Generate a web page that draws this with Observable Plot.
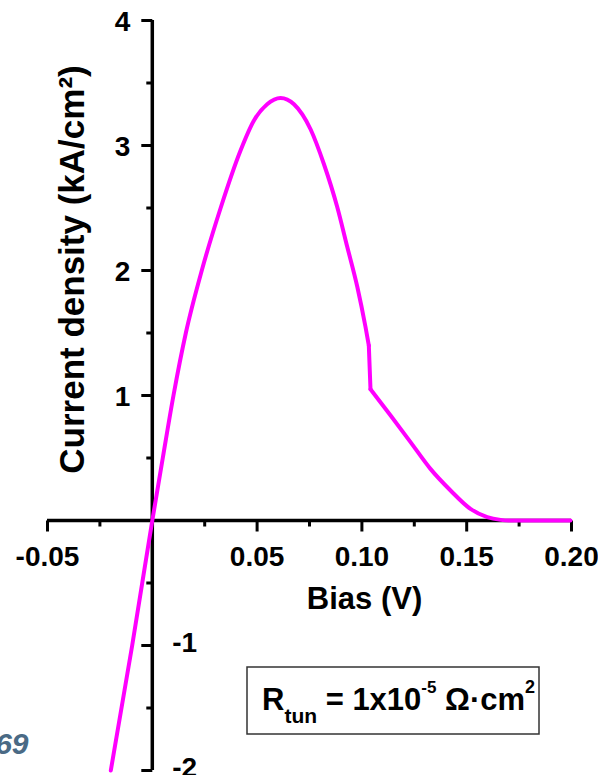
<!DOCTYPE html>
<html>
<head>
<meta charset="utf-8">
<script src="https://cdn.jsdelivr.net/npm/d3@7"></script>
<script src="https://cdn.jsdelivr.net/npm/@observablehq/plot@0.6"></script>
<style>
  html, body { margin: 0; padding: 0; background: #fff; }
  #chart { position: relative; width: 598px; height: 775px; }
  svg { font-family: "Liberation Sans", Arial, Helvetica, sans-serif; }
</style>
</head>
<body>
<div id="chart"></div>
<script>
// ---- data ----
const bias = [-0.0198, -0.0096, 0, 0.0050, 0.0101, 0.0160, 0.0236, 0.0326, 0.0421, 0.0485, 0.0548, 0.0612, 0.0676, 0.0755, 0.0819, 0.0882, 0.0930, 0.0978, 0.1017, 0.1033, 0.1041, 0.1137, 0.1232, 0.1327, 0.1423, 0.1518, 0.1598, 0.1662, 0.1700, 0.1995];
const density = [-2.0, -1.0, 0, 0.5, 1.0, 1.5, 2.0, 2.5, 2.96, 3.20, 3.33, 3.38, 3.33, 3.13, 2.85, 2.51, 2.19, 1.87, 1.55, 1.40, 1.05, 0.84, 0.627, 0.413, 0.24, 0.093, 0.027, 0.005, 0, 0];
const dropStart = 0.1033;   // bias where the current drops abruptly
const dropEnd = 0.1041;

const xMajorTicks = [-0.05, 0.05, 0.10, 0.15, 0.20];
const xMinorTicks = [-0.025, 0.025, 0.075, 0.125, 0.175];
const xTickLabels = ["-0.05", "0.05", "0.10", "0.15", "0.20"];
const yMajorTicks = [-2, -1, 1, 2, 3, 4];
const yMinorTicks = [-1.5, -0.5, 0.5, 1.5, 2.5, 3.5];
const yPosTicks = [1, 2, 3, 4];
const yPosLabels = ["1", "2", "3", "4"];
const yNegTicks = [-1, -2];
const yNegLabels = ["-1", "-2"];

const xTitle = "Bias (V)";
const yTitle = "Current density (kA/cm\u00B2)";
const pageMark = "69";

const curve = bias.map((b, i) => ({bias: b, density: density[i]}));
const before = curve.filter(d => d.bias <= dropStart);
const drop = curve.filter(d => d.bias >= dropStart && d.bias <= dropEnd);
const after = curve.filter(d => d.bias >= dropEnd);

// tick symbols (pixel-length strokes)
const downTick = len => ({draw(ctx) { ctx.moveTo(0, 0); ctx.lineTo(0, len); }});
const leftTick = len => ({draw(ctx) { ctx.moveTo(0, 0); ctx.lineTo(-len, 0); }});

const tickStyle = {stroke: "black", strokeWidth: 3, fill: "none"};
const lbl = {fontSize: 28, fontWeight: "bold", fill: "black"};
const lineStyle = {x: "bias", y: "density", stroke: "#ff00ff", strokeWidth: 4};

const plot = Plot.plot({
  width: 598,
  height: 775,
  marginTop: 20,
  marginBottom: 5,
  marginLeft: 47,
  marginRight: 27,
  style: {background: "white", fontFamily: "'Liberation Sans', Arial, sans-serif"},
  x: {domain: [-0.05, 0.20], axis: null},
  y: {domain: [-2, 4], axis: null},
  marks: [
    // axes lines crossing at origin
    Plot.ruleY([0], {stroke: "black", strokeWidth: 3.5}),
    Plot.ruleX([0], {stroke: "black", strokeWidth: 3.5}),
    // ticks
    Plot.dot(xMajorTicks, {x: d => d, y: () => 0, symbol: downTick(11), ...tickStyle}),
    Plot.dot(xMinorTicks, {x: d => d, y: () => 0, symbol: downTick(6), ...tickStyle}),
    Plot.dot(yMajorTicks, {x: () => 0, y: d => d, symbol: leftTick(11), ...tickStyle}),
    Plot.dot(yMinorTicks, {x: () => 0, y: d => d, symbol: leftTick(6), ...tickStyle}),
    // tick labels
    Plot.text(xMajorTicks, {x: d => d, y: () => 0, text: (d, i) => xTickLabels[i], dy: 37, textAnchor: "middle", lineAnchor: "middle", ...lbl}),
    Plot.text(yPosTicks, {x: () => 0, y: d => d, text: (d, i) => yPosLabels[i], dx: -22, dy: 2, textAnchor: "end", lineAnchor: "middle", ...lbl}),
    Plot.text(yNegTicks, {x: () => 0, y: d => d, text: (d, i) => yNegLabels[i], dx: 20, dy: -2, textAnchor: "start", lineAnchor: "middle", ...lbl}),
    // axis titles
    Plot.text([xTitle], {frameAnchor: "top-left", dx: 317, dy: 579, textAnchor: "middle", lineAnchor: "middle", fontSize: 31, fontWeight: "bold", fill: "black"}),
    Plot.text([yTitle], {frameAnchor: "top-left", dx: 25, dy: 249, rotate: -90, textAnchor: "middle", lineAnchor: "middle", fontSize: 35, fontWeight: "bold", fill: "black"}),
    // the data curve
    Plot.line(before, {...lineStyle, curve: "monotone-x"}),
    Plot.line(drop, {...lineStyle, curve: "linear"}),
    Plot.line(after, {...lineStyle, curve: "monotone-x"}),
    // stray page number at bottom-left
    Plot.text([pageMark], {frameAnchor: "bottom-left", dx: -19, dy: -26, textAnchor: "end", lineAnchor: "middle", fontSize: 30, fontWeight: "bold", fontStyle: "italic", fill: "#4a6a85"})
  ]
});

document.getElementById("chart").appendChild(plot);

// legend box (annotation)
const svg = d3.select(plot);
const g = svg.append("g").attr("class", "legend").attr("text-anchor", "start");
g.append("rect").attr("x", 247).attr("y", 667).attr("width", 292).attr("height", 67)
  .attr("fill", "white").attr("stroke", "#333").attr("stroke-width", 1.5);
const t = g.append("text").attr("x", 262).attr("y", 710)
  .attr("text-anchor", "start")
  .attr("font-size", 31).attr("font-weight", "bold").attr("fill", "black")
  .style("white-space", "pre");
t.append("tspan").text("R");
t.append("tspan").attr("font-size", 21).attr("dy", 13).text("tun");
t.append("tspan").attr("dy", -13).text(" = 1x10");
t.append("tspan").attr("font-size", 17).attr("dy", -17).text("-5");
t.append("tspan").attr("dy", 17).text(" \u03A9\u00B7cm");
t.append("tspan").attr("font-size", 18).attr("dy", -17).text("2");
</script>
</body>
</html>
